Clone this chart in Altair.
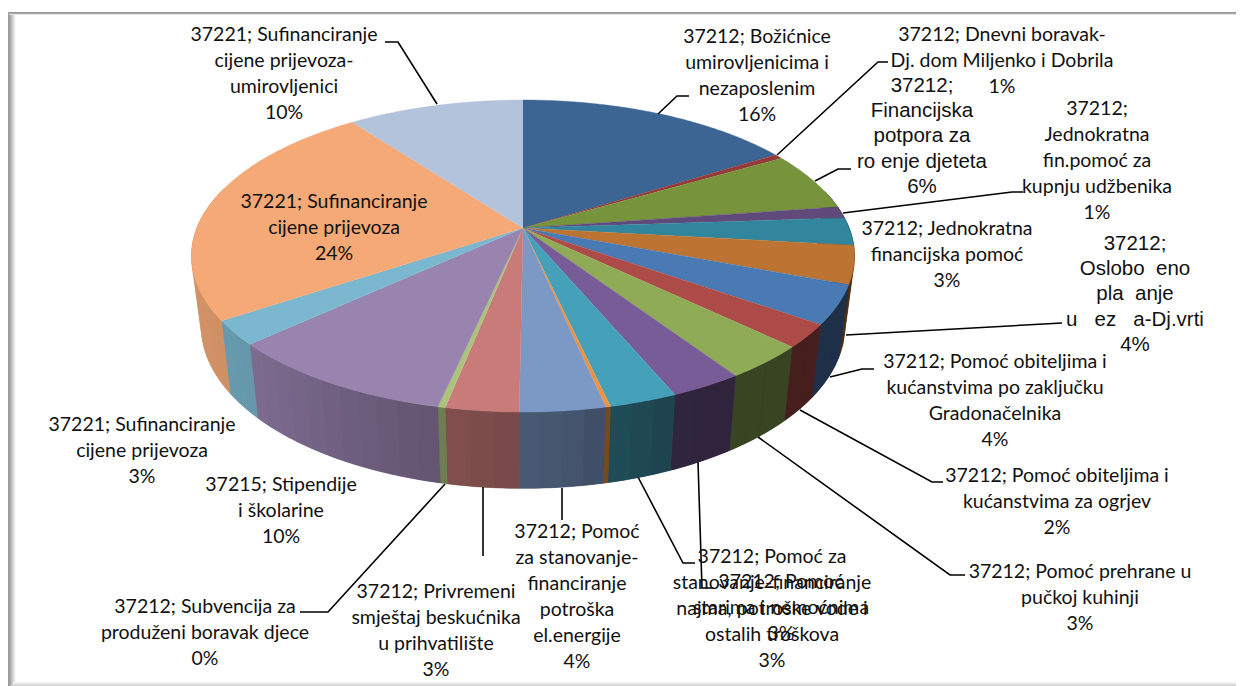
import math
import altair as alt
import pandas as pd

# slice shares, clockwise from 12 o'clock (percent)
slice_values = [16.1, 0.5, 6.1, 1.2, 2.85, 3.95, 4.0, 2.4, 3.5, 3.0, 2.8, 0.2, 3.5, 3.0, 0.3, 9.7, 2.5, 24.1, 10.2]
slice_colors = ["#3C6594", "#953A3A", "#77933C", "#604A7B", "#31859C", "#BD7432", "#4A7AB3", "#AD4B49",
                "#8FAB56", "#775C98", "#45A0BA", "#F0933E", "#7C99C6", "#C87B79", "#ABC47C", "#9983AF",
                "#7BB7CE", "#F4A977", "#B4C3DC"]

calibri_labels = [
    (["37221; Sufinanciranje", "cijene prijevoza-", "umirovljenici", "10%"], 284, 35),
    (["37212; Božićnice", "umirovljenicima i", "nezaposlenim", "16%"], 757, 37),
    (["37212; Dnevni boravak-", "Dj. dom Miljenko i Dobrila", "1%"], 1002, 35),
    (["37212;", "Jednokratna", "fin.pomoć za", "kupnju udžbenika", "1%"], 1097, 109),
    (["37212; Jednokratna", "financijska pomoć", "3%"], 947, 229),
    (["37212; Pomoć obiteljima i", "kućanstvima po zaključku", "Gradonačelnika", "4%"], 995, 362),
    (["37212; Pomoć obiteljima i", "kućanstvima za ogrjev", "2%"], 1057, 476),
    (["37212; Pomoć prehrane u", "pučkoj kuhinji", "3%"], 1080, 572),
    (["37212; Pomoć za", "stanovanje-financiranje", "najma, potroške vode i", "ostalih troškova", "3%"], 772, 557),
    (["37212; Pomoć", "starima i nemoćnima", "3%"], 781, 582),
    (["37212; Pomoć", "za stanovanje-", "financiranje", "potroška", "el.energije", "4%"], 577, 532),
    (["37212; Privremeni", "smještaj beskućnika", "u prihvatilište", "3%"], 436, 592),
    (["37212; Subvencija za", "produženi boravak djece", "0%"], 205, 607),
    (["37215; Stipendije", "i školarine", "10%"], 281, 485),
    (["37221; Sufinanciranje", "cijene prijevoza", "3%"], 142, 425),
    (["37221; Sufinanciranje", "cijene prijevoza", "24%"], 334, 202),
]
arial_labels = [
    (["37212;", "Financijska", "potpora za", "ro\u00a0enje djeteta", "6%"], 922, 86),
    (["37212;", "Oslobo\u00a0\u00a0eno", "pla\u00a0\u00a0anje", "u\u00a0\u00a0\u00a0ez\u00a0\u00a0\u00a0a-Dj.vrti", "4%"], 1135, 244),
]

leaders = [
    [(658, 114), (677, 96), (689, 96)],
    [(777, 155), (878, 62), (888, 62)],
    [(815, 181), (838, 169), (851, 169)],
    [(843, 213), (1012, 192), (1023, 192)],
    [(846, 335), (1062, 323)],
    [(830, 377), (862, 369), (874, 369)],
    [(800, 410), (932, 482), (943, 482)],
    [(758, 437), (950, 575), (965, 575)],
    [(638, 477), (683, 563), (695, 563)],
    [(698, 462), (702, 588), (713, 588)],
    [(562, 488), (562, 520)],
    [(483, 487), (483, 556)],
    [(445, 484), (328, 612), (300, 612)],
    [(437, 104), (398, 42), (385, 42)],
]

# frame: x, x2, y, y2, colour (inner shadow first)
frame_lines = [
    (15.5, 15.5, 14, 682, "#F6F6F6"), (14.5, 14.5, 14, 682, "#ECECEC"), (13.5, 13.5, 14, 682, "#DCDCDC"),
    (12.5, 12.5, 14, 684, "#CCCCCC"), (11.5, 11.5, 14, 685, "#BCBCBC"), (10.5, 10.5, 14, 686, "#ABABAB"),
    (9.5, 9.5, 14, 686, "#A0A0A0"),
    (8.5, 8.5, 12, 686, "#9A9A9A"),
    (9, 1236, 14.5, 14.5, "#E4E4E4"), (8, 1236, 13.5, 13.5, "#A8A8A8"), (8, 1236, 12.5, 12.5, "#9A9A9A"),
    (14, 1236, 682.5, 682.5, "#F4F4F4"), (13, 1236, 683.5, 683.5, "#EAEAEA"),
    (12, 1236, 684.5, 684.5, "#DEDEDE"), (11, 1236, 685.5, 685.5, "#D2D2D2"),
]

W, H = 1228, 678
CX, CY, A, B, K = 523, 228, 151, 326.1, 0.1795
BY, BA, BB = 297, 157, 316.6


def rim(deg, bottom=False):
    t = math.radians(deg)
    u, v = math.sin(t), -math.cos(t)
    d = 1 - K * v
    if bottom:
        return CX + BB * u / d, BY + BA * v / d
    return CX + B * u / d, CY + A * v / d


def shade(hex_colour, f):
    r, g, b = (int(hex_colour[i:i + 2], 16) for i in (1, 3, 5))
    return "#%02X%02X%02X" % (int(r * f), int(g * f), int(b * f))


def wall_factor(deg):
    xs = [60, 155, 165, 172, 185, 195, 225, 240, 300]
    ys = [.40, .40, .47, .55, .62, .66, .82, .86, .88]
    for i in range(len(xs) - 1):
        if xs[i] <= deg <= xs[i + 1]:
            return ys[i] + (ys[i + 1] - ys[i]) * (deg - xs[i]) / (xs[i + 1] - xs[i])
    return ys[-1]


top_rows, wall_rows, base_rows = [], [], []
start = 0.0
for s, (val, col) in enumerate(zip(slice_values, slice_colors)):
    a0 = start
    a1 = start + val / sum(slice_values) * 360
    start = a1
    steps = max(2, int((a1 - a0) / 0.5))
    angs = [a0 + (a1 - a0) * j / steps for j in range(steps + 1)]
    pts = [(CX, CY)] + [rim(a) for a in angs]
    for i, (x, y) in enumerate(pts):
        top_rows.append({"k": s, "i": i, "x": x, "y": y, "c": col})
    vis = [a for a in angs if 75 <= a <= 285]
    if len(vis) > 1:
        outline = [rim(a) for a in vis] + [rim(a, True) for a in reversed(vis)]
        cm = shade(col, wall_factor((vis[0] + vis[-1]) / 2))
        for i, (x, y) in enumerate(outline):
            base_rows.append({"k": s, "i": i, "x": x, "y": y, "c": cm})
    # front wall split in strips for the shading
    wsteps = max(1, int((a1 - a0) / 3))
    wangs = [a0 + (a1 - a0) * j / wsteps for j in range(wsteps + 1)]
    for j in range(wsteps):
        b0, b1 = wangs[j], wangs[j + 1]
        mid = (b0 + b1) / 2
        if mid < 75 or mid > 285:
            continue
        c = shade(col, wall_factor(mid))
        sub = [b0 + (b1 - b0) * q / 4 for q in range(5)]
        quad = [rim(a) for a in sub] + [rim(a, True) for a in reversed(sub)]
        quad.append(quad[0])
        wall_rows.append(((s, j), quad, c))

wall_data = []
for n, (_, quad, c) in enumerate(wall_rows):
    for i, (x, y) in enumerate(quad):
        wall_data.append({"k": n, "i": i, "x": x, "y": y, "c": c})

xs = alt.Scale(domain=[8, 8 + W], range=[0, W])
ys = alt.Scale(domain=[8 + H, 8], range=[H, 0])
X = alt.X("x:Q", scale=xs, axis=None)
Y = alt.Y("y:Q", scale=ys, axis=None)


def polys(rows, sw):
    return alt.Chart(pd.DataFrame(rows)).mark_line(strokeWidth=sw).encode(
        x=X, y=Y, order="i:Q", detail="k:N",
        fill=alt.Fill("c:N", scale=None), stroke=alt.Stroke("c:N", scale=None))


frame_df = pd.DataFrame(frame_lines, columns=["x", "x2", "y", "y2", "c"])
frame = alt.Chart(frame_df).mark_rule(strokeWidth=1).encode(
    x=X, x2="x2:Q", y=Y, y2="y2:Q", color=alt.Color("c:N", scale=None))

lead_df = pd.DataFrame([{"k": n, "i": i, "x": p[0], "y": p[1]} for n, l in enumerate(leaders) for i, p in enumerate(l)])
lead = alt.Chart(lead_df).mark_line(color="#000000", strokeWidth=1.6).encode(x=X, y=Y, order="i:Q", detail="k:N")


def text_layer(labels, font, size, lh):
    rows = [{"t": t, "x": x, "y": y + i * lh} for lines, x, y in labels for i, t in enumerate(lines)]
    return alt.Chart(pd.DataFrame(rows)).mark_text(
        font=font, fontSize=size, color="#111111", align="center", baseline="middle"
    ).encode(x=X, y=Y, text="t:N")


chart = alt.layer(
    frame, polys(base_rows, 0.3), polys(wall_data, 0.3), polys(top_rows, 0.4), lead,
    text_layer(calibri_labels, "Lato", 19.5, 26),
    text_layer(arial_labels, "Liberation Sans", 20.5, 25.2),
).properties(width=W, height=H, padding=0, background="#FFFFFF",
             autosize=alt.AutoSizeParams(type="none")).configure_view(stroke=None)

chart.save("out.html", embed_options={"renderer": "svg", "actions": False})
